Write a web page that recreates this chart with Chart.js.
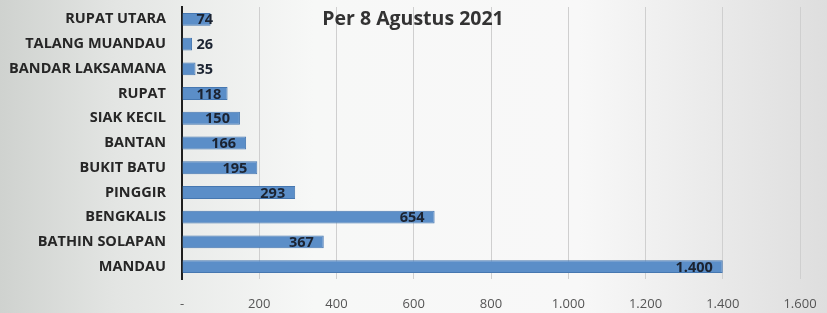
<!DOCTYPE html>
<html>
<head>
<meta charset="utf-8">
<script src="https://cdn.jsdelivr.net/npm/chart.js@4"></script>
<style>
  html, body { margin: 0; padding: 0; }
  body {
    width: 827px; height: 313px; overflow: hidden;
    background: linear-gradient(90deg, #cfd2cf 0%, #e3e5e3 14%, #f7f8f7 38%, #f8f8f8 70%, #dedede 100%);
  }
  #wrap { position: relative; width: 827px; height: 313px; }
</style>
</head>
<body>
<div id="wrap"><canvas id="kasusChart"></canvas></div>
<script>
// Kasus per kecamatan, per 8 Agustus 2021
const kecamatan = ['RUPAT UTARA', 'TALANG MUANDAU', 'BANDAR LAKSAMANA', 'RUPAT', 'SIAK KECIL', 'BANTAN', 'BUKIT BATU', 'PINGGIR', 'BENGKALIS', 'BATHIN SOLAPAN', 'MANDAU'];
const jumlahKasus = [74, 26, 35, 118, 150, 166, 195, 293, 654, 367, 1400];
const xTicks = [0, 200, 400, 600, 800, 1000, 1200, 1400, 1600];
const judul = 'Per 8 Agustus 2021';

const fmt = (v) => v === 0 ? '-' : v.toLocaleString('de-DE');

const noPad = (scale) => {
    scale.paddingTop = 0;
    scale.paddingBottom = 0;
    scale.paddingLeft = 0;
    scale.paddingRight = 0;
};

// value labels near the end of each bar (pushed right when the bar is short)
const barLabels = {
    id: 'barLabels',
    afterDatasetsDraw(chart) {
        const ctx = chart.ctx;
        const meta = chart.getDatasetMeta(0);
        ctx.save();
        ctx.font = 'bold 14.5px "Open Sans", sans-serif';
        ctx.fillStyle = '#1b2331';
        ctx.textBaseline = 'middle';
        ctx.textAlign = 'right';
        meta.data.forEach((bar, i) => {
            const txt = fmt(jumlahKasus[i]);
            const w = ctx.measureText(txt).width;
            const right = Math.max(bar.x - 10, bar.base + w + 14);
            ctx.fillText(txt, right, bar.y + 1);
        });
        ctx.restore();
    }
};

const titleText = {
    id: 'titleText',
    afterDraw(chart) {
        const ctx = chart.ctx;
        ctx.save();
        ctx.font = 'bold 19.5px "Open Sans", sans-serif';
        ctx.fillStyle = '#333333';
        ctx.textAlign = 'center';
        ctx.textBaseline = 'middle';
        ctx.fillText(judul, 413, 19);
        ctx.restore();
    }
};

const ctx = document.getElementById('kasusChart').getContext('2d');
new Chart(ctx, {
    type: 'bar',
    data: {
        labels: kecamatan,
        datasets: [{
            data: jumlahKasus,
            backgroundColor: '#5b8ec8',
            borderColor: '#4677b0',
            borderWidth: 1,
            barPercentage: 0.52,
            categoryPercentage: 1.0
        }]
    },
    options: {
        responsive: true,
        maintainAspectRatio: false,
        animation: false,
        indexAxis: 'y',
        layout: { padding: { left: 0, right: 27, top: 7, bottom: 0 } },
        scales: {
            x: {
                min: 0,
                max: 1600,
                afterBuildTicks: (scale) => { scale.ticks = xTicks.map(v => ({ value: v })); },
                afterFit: (scale) => { scale.height = 34; noPad(scale); },
                grid: { color: '#cfcfcf', drawTicks: false },
                border: { display: false },
                ticks: {
                    padding: 17,
                    color: '#555555',
                    font: { family: 'Open Sans', size: 13 },
                    callback: (v) => fmt(v)
                }
            },
            y: {
                afterFit: (scale) => { scale.width = 182; noPad(scale); },
                grid: { display: false, drawTicks: false },
                border: { display: true, color: '#1e1e1e', width: 2 },
                ticks: {
                    padding: 16,
                    color: '#262626',
                    font: { family: 'Open Sans', size: 14.5, weight: 'bold' }
                }
            }
        },
        plugins: {
            legend: { display: false },
            tooltip: { enabled: false }
        }
    },
    plugins: [barLabels, titleText]
});
</script>
</body>
</html>
